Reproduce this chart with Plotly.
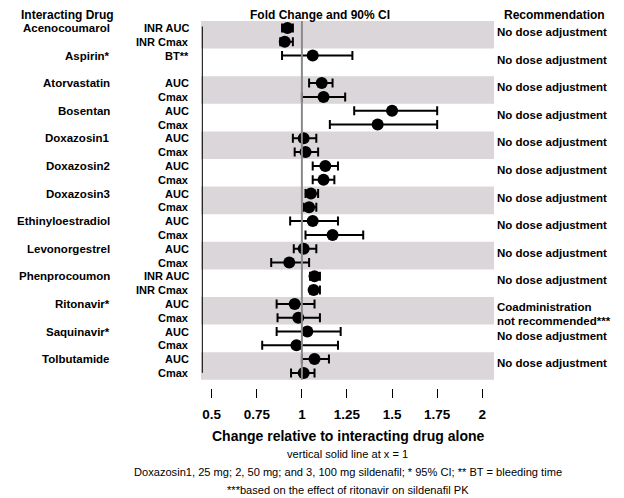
import plotly.graph_objects as go

drugs = ["Acenocoumarol", "Aspirin*", "Atorvastatin", "Bosentan", "Doxazosin1",
         "Doxazosin2", "Doxazosin3", "Ethinyloestradiol", "Levonorgestrel",
         "Phenprocoumon", "Ritonavir*", "Saquinavir*", "Tolbutamide"]
params = [["INR AUC", "INR Cmax"], ["BT**"], ["AUC", "Cmax"], ["AUC", "Cmax"],
          ["AUC", "Cmax"], ["AUC", "Cmax"], ["AUC", "Cmax"], ["AUC", "Cmax"],
          ["AUC", "Cmax"], ["INR AUC", "INR Cmax"], ["AUC", "Cmax"],
          ["AUC", "Cmax"], ["AUC", "Cmax"]]
est = [0.92, 0.905, 1.06, 1.11, 1.12, 1.50, 1.42, 1.01, 1.02, 1.13, 1.12, 1.05, 1.04,
       1.06, 1.17, 1.01, 0.93, 1.07, 1.065, 0.96, 0.98, 1.03, 0.97, 1.07, 1.01]
lo = [0.89, 0.88, 0.89, 1.04, 1.00, 1.29, 1.155, 0.95, 0.96, 1.06, 1.06, 1.02, 1.01,
      0.935, 1.02, 0.955, 0.83, 1.045, 1.047, 0.86, 0.865, 0.86, 0.78, 1.00, 0.94]
hi = [0.95, 0.95, 1.28, 1.17, 1.24, 1.75, 1.75, 1.08, 1.09, 1.20, 1.18, 1.09, 1.08,
      1.20, 1.34, 1.08, 1.04, 1.10, 1.10, 1.07, 1.10, 1.215, 1.20, 1.15, 1.07]
recommend = ["No dose adjustment"] * 10 + ["Coadministration\nnot recommended***"] + \
            ["No dose adjustment"] * 2
tick_vals = [0.5, 0.75, 1, 1.25, 1.5, 1.75, 2]
tick_text = ["0.5", "0.75", "1", "1.25", "1.5", "1.75", "2"]
x_title = "Change relative to interacting drug alone"
footnotes = ["vertical solid line at x = 1",
             "Doxazosin1, 25 mg; 2, 50 mg; and 3, 100 mg sildenafil; * 95% CI; ** BT = bleeding time",
             "***based on the effect of ritonavir on sildenafil PK"]
headers = ["Interacting Drug", "Fold Change and 90% CI", "Recommendation"]

FONT = "Arial, Liberation Sans, sans-serif"
BAND = "#dad6da"

# the html page body has an 8px margin; compensate in the layout
OFF = 8
ys, labels = [], []
for k, plist in enumerate(params):
    for j, p in enumerate(plist):
        ys.append(2 * k + j)
        labels.append(p)

n_groups = len(drugs)
n_slots = 2 * n_groups

fig = go.Figure()
fig.add_trace(go.Scatter(
    x=est, y=ys, mode="markers",
    marker=dict(color="black", size=12),
    error_x=dict(type="data", symmetric=False,
                 array=[h - e for h, e in zip(hi, est)],
                 arrayminus=[e - l for e, l in zip(est, lo)],
                 color="black", thickness=2, width=4.5),
    showlegend=False, hoverinfo="skip"))

shapes = []
for k in range(0, n_groups, 2):
    shapes.append(dict(type="rect", xref="paper", yref="y", x0=0, x1=1,
                       y0=2 * k - 0.5, y1=2 * k + 1.5, fillcolor=BAND,
                       line=dict(width=0), layer="below"))
shapes.append(dict(type="line", xref="x", yref="y", x0=1, x1=1, y0=-0.5,
                   y1=n_slots - 0.5, line=dict(color="#8a8a8a", width=2)))
shapes.append(dict(type="line", xref="paper", yref="y", x0=0.0045, x1=0.0045,
                   y0=-0.1, y1=n_slots - 1, line=dict(color="black", width=1)))

ann = []
bold = dict(family=FONT, color="black", weight="bold")
for k, d in enumerate(drugs):
    ann.append(dict(xref="paper", yref="y", x=-0.3038, y=2 * k, text=d,
                    xanchor="right", yanchor="middle", showarrow=False,
                    font=dict(bold, size=11.5)))
    lines = recommend[k].split("\n")
    y0 = 2 * k + (0.25 if len(lines) > 1 else 0.3)
    for i, ln in enumerate(lines):
        ann.append(dict(xref="paper", yref="y", x=1.0034, y=y0 + 0.97 * i, text=ln,
                        xanchor="left", yanchor="middle", showarrow=False,
                        font=dict(bold, size=11.5)))
for y, lab in zip(ys, labels):
    ann.append(dict(xref="paper", yref="y", x=-0.0341, y=y, text=lab,
                    xanchor="right", yanchor="middle", showarrow=False,
                    font=dict(bold, size=11)))

H_PLOT = 367.0
def py(Y):
    return (388 - Y) / H_PLOT

for txt, xp in zip(headers, [-0.457, 0.406, 1.208]):
    ann.append(dict(xref="paper", yref="paper", x=xp, y=py(14.8), text=txt,
                    xanchor="center", yanchor="middle", showarrow=False,
                    borderpad=0, font=dict(bold, size=12)))
ann.append(dict(xref="paper", yref="paper", x=0.5, y=py(435.7), text=x_title,
                xanchor="center", yanchor="middle", showarrow=False,
                font=dict(bold, size=14)))
for txt, Y in zip(footnotes, [454, 472, 490]):
    ann.append(dict(xref="paper", yref="paper", x=0.5, y=py(Y), text=txt,
                    xanchor="center", yanchor="middle", showarrow=False,
                    font=dict(family=FONT, color="black", size=11.1)))

fig.update_layout(
    width=624 - OFF, height=498 - OFF,
    margin=dict(l=201 - OFF, r=130, t=21 - OFF, b=110, pad=0),
    paper_bgcolor="white", plot_bgcolor="white",
    shapes=shapes, annotations=ann,
    xaxis=dict(range=[0.4407, 2.065], tickvals=tick_vals, ticktext=tick_text,
               ticks="outside", ticklen=9, tickcolor="black", tickwidth=1,
               showgrid=False, zeroline=False, showline=False,
               ticklabelstandoff=5,
               tickfont=dict(family=FONT, size=13.5, color="black", weight="bold")),
    yaxis=dict(range=[-0.5 + H_PLOT / 13.8, -0.5], showticklabels=False,
               showgrid=False, zeroline=False, showline=False, ticks=""),
)
fig.write_html("out.html")
